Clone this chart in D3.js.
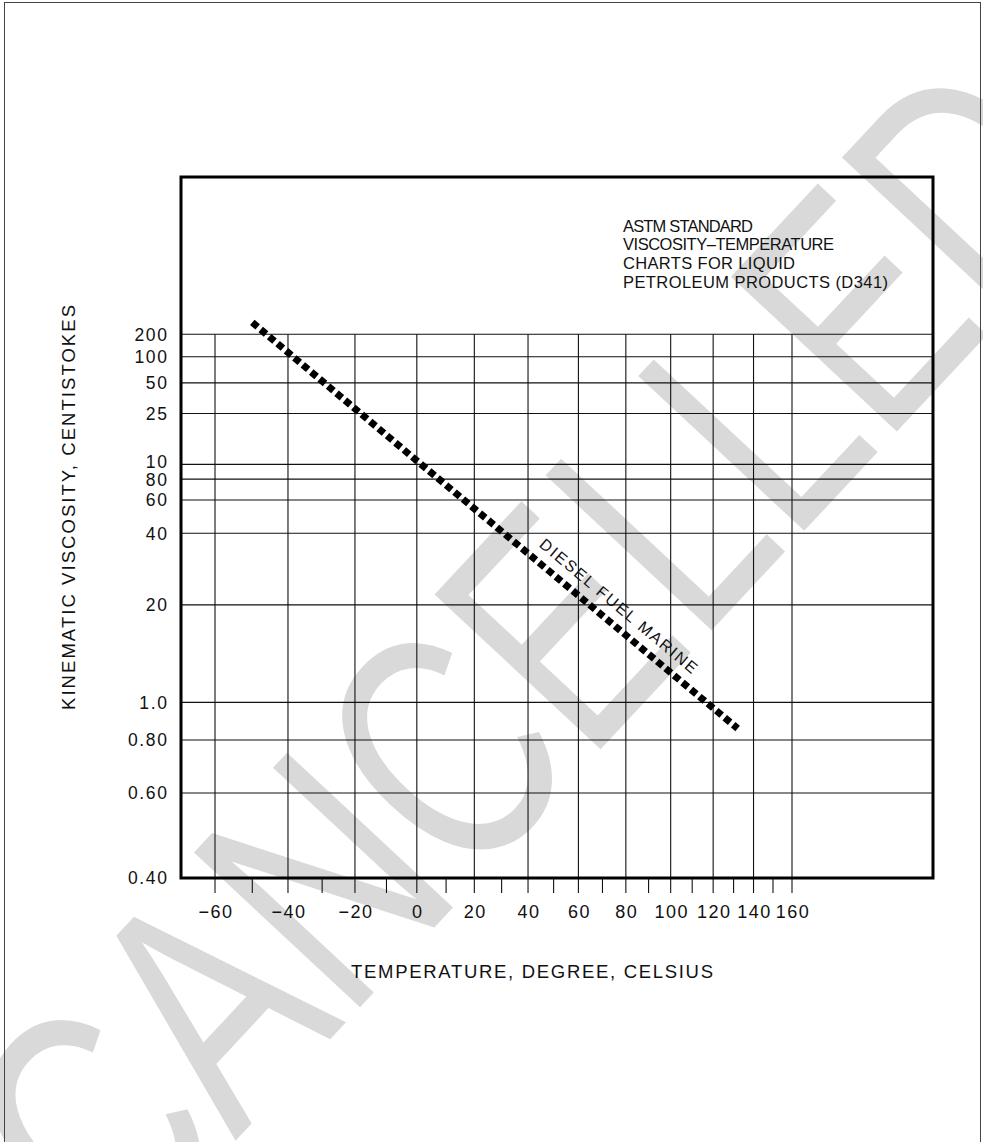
<!DOCTYPE html>
<html>
<head>
<meta charset="utf-8">
<script src="https://cdn.jsdelivr.net/npm/d3@7"></script>
<style>
  html, body { margin: 0; padding: 0; background: #fff; }
  svg { display: block; }
  text { font-family: "Liberation Sans", Arial, sans-serif; fill: #111; }
</style>
</head>
<body>
<svg id="chart" width="983" height="1142"></svg>
<script>
// Temperature axis (degrees Celsius)
const tempTicks  = [-60, -40, -20, 0, 20, 40, 60, 80, 100, 120, 140, 160];
const tempLabels = ["\u221260", "\u221240", "\u221220", "0", "20", "40", "60", "80", "100", "120", "140", "160"];
const tempMinor  = [-50, -30, -10, 10, 30, 50, 70, 90, 110, 130, 150];

// Kinematic viscosity axis (centistokes) and the labels printed beside it
const viscTicks  = [200, 100, 50, 25, 10, 8, 6, 4, 2, 1, 0.8, 0.6, 0.4];
const viscLabels = ["200", "100", "50", "25", "10", "80", "60", "40", "20", "1.0", "0.80", "0.60", "0.40"];
const viscLabelNudge = [0, 0, 0, 0, -3, 0.5, 0, 0, 0, 0, 0, 0, 0];

// Diesel fuel marine viscosity-temperature line
const dfmTemps = [-50, 0, 40, 100, 132];
const dfmVisc  = [300, 10.6, 3.22, 1.21, 0.855];

const titleLines = ["ASTM STANDARD", "VISCOSITY\u2013TEMPERATURE", "CHARTS FOR LIQUID", "PETROLEUM PRODUCTS (D341)"];

const svg = d3.select("#chart");
const K = 273.15;

// Frame of the plotting area
const frame = { left: 181, right: 933, top: 177, bottom: 878 };

// ASTM D341: abscissa is log of absolute temperature,
// ordinate is log log of (viscosity + 0.7 + low-viscosity correction)
function astmZ(v) { return v + 0.7 + Math.exp(-1.47 - 1.84 * v - 0.51 * v * v); }
function astmY(v) { return Math.log10(Math.log10(astmZ(v))); }

const xLog = d3.scaleLog().domain([tempTicks[0] + K, tempTicks[tempTicks.length - 1] + K]).range([215, 792]);
const x = t => xLog(t + K);
const yLin = d3.scaleLinear().domain([astmY(0.4), astmY(200)]).range([877.7, 334.3]);
const y = v => yLin(astmY(v));

// Watermark
svg.append("text")
  .attr("transform", "translate(115,1270) rotate(-47) scale(0.74,1)")
  .attr("font-size", 330)
  .style("font-family", "'Liberation Sans', Arial, sans-serif")
  .style("fill", "#d9d9d9")
  .text("CANCELLED");

// Page border
svg.append("rect")
  .attr("x", 4.5).attr("y", 2.5).attr("width", 976).attr("height", 1150)
  .attr("fill", "none").attr("stroke", "#444").attr("stroke-width", 1);

const grid = svg.append("g").attr("stroke", "#111").attr("stroke-width", 1.1);

// Horizontal grid lines
grid.selectAll("line.h").data(viscTicks).join("line")
  .attr("class", "h")
  .attr("x1", frame.left).attr("x2", frame.right)
  .attr("y1", d => y(d)).attr("y2", d => y(d));

// Vertical grid lines with ticks below the frame
grid.selectAll("line.v").data(tempTicks).join("line")
  .attr("class", "v")
  .attr("x1", d => x(d)).attr("x2", d => x(d))
  .attr("y1", y(200)).attr("y2", frame.bottom + 15);

grid.selectAll("line.m").data(tempMinor).join("line")
  .attr("class", "m")
  .attr("x1", d => x(d)).attr("x2", d => x(d))
  .attr("y1", frame.bottom).attr("y2", frame.bottom + 15);

// Plot frame
svg.append("rect")
  .attr("x", frame.left).attr("y", frame.top)
  .attr("width", frame.right - frame.left).attr("height", frame.bottom - frame.top)
  .attr("fill", "none").attr("stroke", "#000").attr("stroke-width", 3);

// Temperature tick labels
svg.append("g").selectAll("text").data(tempTicks).join("text")
  .attr("x", d => x(d) + 1).attr("y", 917.5)
  .attr("text-anchor", "middle")
  .attr("font-size", 18)
  .style("letter-spacing", "1.5px")
  .text((d, i) => tempLabels[i]);

// Viscosity tick labels
svg.append("g").selectAll("text").data(viscTicks).join("text")
  .attr("x", 168.5).attr("y", (d, i) => y(d) + 6.3 + viscLabelNudge[i])
  .attr("text-anchor", "end")
  .attr("font-size", 17.5)
  .style("letter-spacing", "1.6px")
  .text((d, i) => viscLabels[i]);

// Axis titles
svg.append("text")
  .attr("transform", "translate(75,507.5) rotate(-90)")
  .attr("text-anchor", "middle")
  .attr("font-size", 18.5)
  .attr("textLength", 405).attr("lengthAdjust", "spacing")
  .text("KINEMATIC VISCOSITY, CENTISTOKES");

svg.append("text")
  .attr("x", 351).attr("y", 978)
  .attr("font-size", 18.5)
  .attr("textLength", 362).attr("lengthAdjust", "spacing")
  .text("TEMPERATURE, DEGREE, CELSIUS");

// Title block inside the frame
const titleWidths = [130, 211, 172, 265];
svg.append("g").selectAll("text").data(titleLines).join("text")
  .attr("x", 623).attr("y", (d, i) => 231.7 + i * 18.7)
  .attr("font-size", 16.5)
  .attr("textLength", (d, i) => titleWidths[i]).attr("lengthAdjust", "spacing")
  .text(d => d);

// Diesel fuel marine line
const dfm = dfmTemps.map((t, i) => [x(t), y(dfmVisc[i])]);
svg.append("path")
  .attr("d", d3.line()(dfm))
  .attr("fill", "none").attr("stroke", "#000")
  .attr("stroke-width", 7).attr("stroke-dasharray", "7,4");

// Label along the line
const p0 = dfm[0], p1 = dfm[dfm.length - 1];
const ang = Math.atan2(p1[1] - p0[1], p1[0] - p0[0]);
const tLabel = 41;
const frac = (x(tLabel) - p0[0]) / (p1[0] - p0[0]);
const lx = p0[0] + frac * (p1[0] - p0[0]) + 12 * Math.sin(ang);
const ly = p0[1] + frac * (p1[1] - p0[1]) - 12 * Math.cos(ang);
svg.append("text")
  .attr("transform", `translate(${lx},${ly}) rotate(${ang * 180 / Math.PI})`)
  .attr("font-size", 16)
  .attr("textLength", 200).attr("lengthAdjust", "spacing")
  .text("DIESEL FUEL MARINE");
</script>
</body>
</html>
